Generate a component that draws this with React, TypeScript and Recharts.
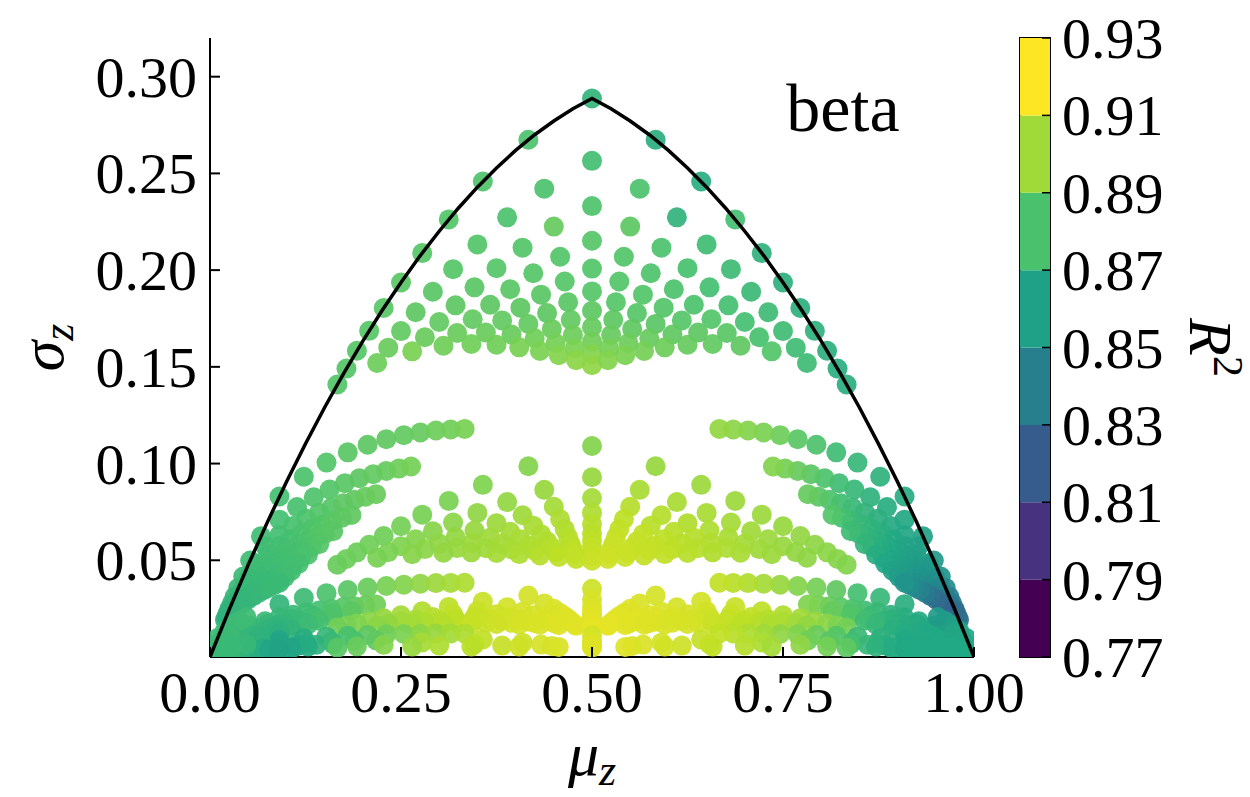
import React from 'react';
import { ScatterChart, Scatter, XAxis, YAxis, ReferenceDot, BarChart, Bar, ReferenceArea } from 'recharts';

const SERIF = '"Liberation Serif", "Times New Roman", serif';
const TICK_FONT = 58;

// each point: [mu_z, sigma_z, R2]
const domeLeft = [
  [0.5, 0.2887, 0.874], [0.4167, 0.2674, 0.884], [0.3571, 0.2458, 0.885], [0.3125, 0.2262, 0.886], [0.2778, 0.2088, 0.887], [0.25, 0.1936, 0.888],
  [0.2273, 0.1804, 0.888], [0.2083, 0.1686, 0.887], [0.1923, 0.1583, 0.887], [0.1786, 0.1491, 0.886], [0.1667, 0.1409, 0.886],
  [0.5, 0.2565, 0.881], [0.4375, 0.2421, 0.884], [0.3889, 0.2273, 0.884], [0.35, 0.2133, 0.886], [0.3182, 0.2005, 0.887],
  [0.2917, 0.1888, 0.888], [0.2692, 0.1782, 0.889], [0.25, 0.1685, 0.891], [0.2333, 0.1599, 0.893], [0.2188, 0.152, 0.894],
  [0.5, 0.2331, 0.885], [0.45, 0.2225, 0.892], [0.4091, 0.2116, 0.886], [0.375, 0.201, 0.887], [0.3462, 0.1911, 0.888],
  [0.3214, 0.1818, 0.889], [0.3, 0.1732, 0.891], [0.2813, 0.1653, 0.893], [0.2647, 0.158, 0.898],
  [0.5, 0.2152, 0.887], [0.4583, 0.2069, 0.886], [0.4231, 0.1984, 0.887], [0.3929, 0.1901, 0.888], [0.3667, 0.1821, 0.889],
  [0.3438, 0.1746, 0.891], [0.3235, 0.1675, 0.893], [0.3056, 0.1609, 0.895],
  [0.5, 0.2008, 0.886], [0.4643, 0.1941, 0.887], [0.4333, 0.1873, 0.888], [0.4063, 0.1806, 0.889], [0.3824, 0.174, 0.891],
  [0.3611, 0.1677, 0.893], [0.3421, 0.1618, 0.895],
  [0.5, 0.189, 0.887], [0.4688, 0.1834, 0.888], [0.4412, 0.1778, 0.889], [0.4167, 0.1722, 0.891], [0.3947, 0.1667, 0.893], [0.375, 0.1614, 0.895],
  [0.5, 0.179, 0.889], [0.4722, 0.1743, 0.891], [0.4474, 0.1696, 0.893], [0.425, 0.1648, 0.895], [0.4048, 0.1601, 0.897],
  [0.5, 0.1705, 0.892], [0.475, 0.1665, 0.894], [0.4524, 0.1623, 0.896], [0.4318, 0.1582, 0.898],
  [0.5, 0.1631, 0.895], [0.4773, 0.1596, 0.898], [0.4565, 0.156, 0.9],
  [0.5, 0.1566, 0.9], [0.4792, 0.1534, 0.902],
  [0.5, 0.1508, 0.903],
];

const domeRight = [
  [0.5833, 0.2674, 0.87], [0.6429, 0.2458, 0.869], [0.6875, 0.2262, 0.882], [0.7222, 0.2088, 0.872], [0.75, 0.1936, 0.871],
  [0.7727, 0.1804, 0.871], [0.7917, 0.1686, 0.872], [0.8077, 0.1583, 0.871], [0.8214, 0.1491, 0.87], [0.8333, 0.1409, 0.87],
  [0.5625, 0.2421, 0.884], [0.6111, 0.2273, 0.873], [0.65, 0.2133, 0.88], [0.6818, 0.2005, 0.879], [0.7083, 0.1888, 0.878],
  [0.7308, 0.1782, 0.879], [0.75, 0.1685, 0.88], [0.7667, 0.1599, 0.88], [0.7813, 0.152, 0.879],
  [0.55, 0.2225, 0.889], [0.5909, 0.2116, 0.884], [0.625, 0.201, 0.883], [0.6538, 0.1911, 0.882], [0.6786, 0.1818, 0.882],
  [0.7, 0.1732, 0.882], [0.7188, 0.1653, 0.883], [0.7353, 0.158, 0.886],
  [0.5417, 0.2069, 0.886], [0.5769, 0.1984, 0.885], [0.6071, 0.1901, 0.884], [0.6333, 0.1821, 0.884], [0.6563, 0.1746, 0.886],
  [0.6765, 0.1675, 0.888], [0.6944, 0.1609, 0.89],
  [0.5357, 0.1941, 0.886], [0.5667, 0.1873, 0.886], [0.5938, 0.1806, 0.886], [0.6176, 0.174, 0.887], [0.6389, 0.1677, 0.889], [0.6579, 0.1618, 0.891],
  [0.5313, 0.1834, 0.887], [0.5588, 0.1778, 0.887], [0.5833, 0.1722, 0.888], [0.6053, 0.1667, 0.89], [0.625, 0.1614, 0.892],
  [0.5278, 0.1743, 0.889], [0.5526, 0.1696, 0.89], [0.575, 0.1648, 0.892], [0.5952, 0.1601, 0.894],
  [0.525, 0.1665, 0.892], [0.5476, 0.1623, 0.894], [0.5682, 0.1582, 0.896],
  [0.5227, 0.1596, 0.896], [0.5435, 0.156, 0.898],
  [0.5208, 0.1534, 0.9],
];

const arcsLeft = [
  [0.0909, 0.083, 0.882], [0.1228, 0.0932, 0.884], [0.1525, 0.1005, 0.886], [0.1803, 0.1058, 0.888], [0.2063, 0.1097, 0.889], [0.2308, 0.1126, 0.89],
  [0.2537, 0.1147, 0.891], [0.2754, 0.1161, 0.892], [0.2958, 0.1171, 0.894], [0.3151, 0.1176, 0.895], [0.3333, 0.1179, 0.897],
  [0.0667, 0.0624, 0.88], [0.0909, 0.071, 0.882], [0.1139, 0.0775, 0.883], [0.1358, 0.0826, 0.885], [0.1566, 0.0866, 0.886], [0.1765, 0.0898, 0.888],
  [0.1954, 0.0924, 0.889], [0.2135, 0.0945, 0.891], [0.2308, 0.0962, 0.892], [0.2473, 0.0974, 0.894], [0.2632, 0.0985, 0.896],
  [0.0526, 0.0499, 0.879], [0.0722, 0.0573, 0.88], [0.0909, 0.063, 0.881], [0.1089, 0.0677, 0.883], [0.1262, 0.0715, 0.884], [0.1429, 0.0746, 0.886],
  [0.1589, 0.0772, 0.887], [0.1743, 0.0795, 0.889], [0.1892, 0.0813, 0.89], [0.2035, 0.0829, 0.892], [0.2174, 0.0842, 0.893],
  [0.0435, 0.0416, 0.878], [0.0598, 0.048, 0.879], [0.0756, 0.0531, 0.88], [0.0909, 0.0573, 0.881], [0.1057, 0.0608, 0.882], [0.12, 0.0637, 0.884],
  [0.1339, 0.0663, 0.885], [0.1473, 0.0685, 0.886], [0.1603, 0.0703, 0.888], [0.1729, 0.072, 0.889], [0.1852, 0.0734, 0.89],
  [0.037, 0.0357, 0.877], [0.0511, 0.0413, 0.878], [0.0647, 0.0458, 0.879], [0.078, 0.0496, 0.88], [0.0909, 0.0528, 0.881], [0.1034, 0.0556, 0.882],
  [0.1156, 0.058, 0.883], [0.1275, 0.0601, 0.884], [0.1391, 0.062, 0.886], [0.1503, 0.0636, 0.887], [0.1613, 0.065, 0.888],
  [0.0323, 0.0312, 0.876], [0.0446, 0.0363, 0.877], [0.0566, 0.0404, 0.878], [0.0683, 0.0438, 0.879], [0.0798, 0.0468, 0.879], [0.0909, 0.0493, 0.88],
  [0.1018, 0.0516, 0.881], [0.1124, 0.0535, 0.882], [0.1228, 0.0553, 0.883], [0.1329, 0.0569, 0.884], [0.1429, 0.0583, 0.886],
  [0.0286, 0.0278, 0.875], [0.0395, 0.0323, 0.876], [0.0503, 0.036, 0.877], [0.0608, 0.0392, 0.878], [0.071, 0.0419, 0.878], [0.0811, 0.0443, 0.879],
  [0.0909, 0.0464, 0.88], [0.1005, 0.0483, 0.881], [0.1099, 0.05, 0.882], [0.1192, 0.0515, 0.883], [0.1282, 0.0529, 0.884],
  [0.0256, 0.025, 0.874], [0.0355, 0.0291, 0.875], [0.0452, 0.0325, 0.876], [0.0547, 0.0354, 0.877], [0.064, 0.038, 0.877], [0.0732, 0.0402, 0.878],
  [0.0821, 0.0422, 0.879], [0.0909, 0.0439, 0.879], [0.0995, 0.0455, 0.88], [0.108, 0.047, 0.881], [0.1163, 0.0483, 0.882],
  [0.0233, 0.0227, 0.873], [0.0323, 0.0265, 0.874], [0.0411, 0.0297, 0.875], [0.0498, 0.0324, 0.876], [0.0583, 0.0347, 0.876], [0.0667, 0.0368, 0.877],
  [0.0749, 0.0386, 0.878], [0.083, 0.0403, 0.878], [0.0909, 0.0418, 0.879], [0.0987, 0.0432, 0.88], [0.1064, 0.0445, 0.881],
  [0.0213, 0.0208, 0.872], [0.0295, 0.0243, 0.873], [0.0377, 0.0273, 0.874], [0.0456, 0.0297, 0.875], [0.0535, 0.0319, 0.875], [0.0612, 0.0339, 0.876],
  [0.0688, 0.0356, 0.877], [0.0763, 0.0373, 0.877], [0.0837, 0.0387, 0.878], [0.0909, 0.04, 0.879], [0.098, 0.0412, 0.88],
  [0.0196, 0.0192, 0.872], [0.0272, 0.0225, 0.873], [0.0347, 0.0252, 0.873], [0.0421, 0.0275, 0.874], [0.0494, 0.0296, 0.875], [0.0566, 0.0315, 0.875],
  [0.0637, 0.0331, 0.876], [0.0706, 0.0346, 0.876], [0.0775, 0.036, 0.877], [0.0842, 0.0372, 0.878], [0.0909, 0.0384, 0.878],
];

const arcsRight = [
  [0.9091, 0.083, 0.868], [0.8772, 0.0932, 0.872], [0.8475, 0.1005, 0.876], [0.8197, 0.1058, 0.88], [0.7937, 0.1097, 0.884], [0.7692, 0.1126, 0.888],
  [0.7463, 0.1147, 0.894], [0.7246, 0.1161, 0.898], [0.7042, 0.1171, 0.9], [0.6849, 0.1176, 0.902], [0.6667, 0.1179, 0.904],
  [0.9333, 0.0624, 0.862], [0.9091, 0.071, 0.866], [0.8861, 0.0775, 0.869], [0.8642, 0.0826, 0.872], [0.8434, 0.0866, 0.876], [0.8235, 0.0898, 0.88],
  [0.8046, 0.0924, 0.884], [0.7865, 0.0945, 0.888], [0.7692, 0.0962, 0.892], [0.7527, 0.0974, 0.896], [0.7368, 0.0985, 0.9],
  [0.9474, 0.0499, 0.856], [0.9278, 0.0573, 0.86], [0.9091, 0.063, 0.864], [0.8911, 0.0677, 0.867], [0.8738, 0.0715, 0.87], [0.8571, 0.0746, 0.873],
  [0.8411, 0.0772, 0.876], [0.8257, 0.0795, 0.88], [0.8108, 0.0813, 0.884], [0.7965, 0.0829, 0.888], [0.7826, 0.0842, 0.892],
  [0.9565, 0.0416, 0.852], [0.9402, 0.048, 0.856], [0.9244, 0.0531, 0.86], [0.9091, 0.0573, 0.863], [0.8943, 0.0608, 0.866], [0.88, 0.0637, 0.869],
  [0.8661, 0.0663, 0.872], [0.8527, 0.0685, 0.875], [0.8397, 0.0703, 0.878], [0.8271, 0.072, 0.882], [0.8148, 0.0734, 0.886],
  [0.963, 0.0357, 0.846], [0.9489, 0.0413, 0.851], [0.9353, 0.0458, 0.855], [0.922, 0.0496, 0.858], [0.9091, 0.0528, 0.861], [0.8966, 0.0556, 0.864],
  [0.8844, 0.058, 0.867], [0.8725, 0.0601, 0.87], [0.8609, 0.062, 0.873], [0.8497, 0.0636, 0.876], [0.8387, 0.065, 0.879],
  [0.9677, 0.0312, 0.84], [0.9554, 0.0363, 0.846], [0.9434, 0.0404, 0.85], [0.9317, 0.0438, 0.854], [0.9202, 0.0468, 0.857], [0.9091, 0.0493, 0.86],
  [0.8982, 0.0516, 0.863], [0.8876, 0.0535, 0.866], [0.8772, 0.0553, 0.868], [0.8671, 0.0569, 0.871], [0.8571, 0.0583, 0.874],
  [0.9714, 0.0278, 0.836], [0.9605, 0.0323, 0.84], [0.9497, 0.036, 0.845], [0.9392, 0.0392, 0.849], [0.929, 0.0419, 0.852], [0.9189, 0.0443, 0.855],
  [0.9091, 0.0464, 0.858], [0.8995, 0.0483, 0.861], [0.8901, 0.05, 0.864], [0.8808, 0.0515, 0.866], [0.8718, 0.0529, 0.869],
  [0.9744, 0.025, 0.832], [0.9645, 0.0291, 0.836], [0.9548, 0.0325, 0.84], [0.9453, 0.0354, 0.844], [0.936, 0.038, 0.848], [0.9268, 0.0402, 0.851],
  [0.9179, 0.0422, 0.854], [0.9091, 0.0439, 0.857], [0.9005, 0.0455, 0.86], [0.892, 0.047, 0.862], [0.8837, 0.0483, 0.865],
  [0.9767, 0.0227, 0.828], [0.9677, 0.0265, 0.832], [0.9589, 0.0297, 0.836], [0.9502, 0.0324, 0.84], [0.9417, 0.0347, 0.844], [0.9333, 0.0368, 0.847],
  [0.9251, 0.0386, 0.85], [0.917, 0.0403, 0.853], [0.9091, 0.0418, 0.856], [0.9013, 0.0432, 0.858], [0.8936, 0.0445, 0.861],
  [0.9787, 0.0208, 0.826], [0.9705, 0.0243, 0.828], [0.9623, 0.0273, 0.831], [0.9544, 0.0297, 0.835], [0.9465, 0.0319, 0.839], [0.9388, 0.0339, 0.843],
  [0.9312, 0.0356, 0.846], [0.9237, 0.0373, 0.849], [0.9163, 0.0387, 0.852], [0.9091, 0.04, 0.855], [0.902, 0.0412, 0.858],
  [0.9804, 0.0192, 0.83], [0.9728, 0.0225, 0.826], [0.9653, 0.0252, 0.822], [0.9579, 0.0275, 0.822], [0.9506, 0.0296, 0.826], [0.9434, 0.0315, 0.83],
  [0.9363, 0.0331, 0.835], [0.9294, 0.0346, 0.84], [0.9225, 0.036, 0.844], [0.9158, 0.0372, 0.848], [0.9091, 0.0384, 0.852],
];

const fanLeft = [
  [0.5, 0.1091, 0.9], [0.4167, 0.0986, 0.9], [0.3571, 0.089, 0.899], [0.3125, 0.0807, 0.898], [0.2778, 0.0736, 0.897], [0.25, 0.0676, 0.896],
  [0.2273, 0.0625, 0.895], [0.2083, 0.058, 0.895], [0.1923, 0.0541, 0.894], [0.1786, 0.0507, 0.894], [0.1667, 0.0477, 0.893],
  [0.5, 0.0929, 0.905], [0.4375, 0.0864, 0.905], [0.3889, 0.0801, 0.904], [0.35, 0.0745, 0.903], [0.3182, 0.0695, 0.902],
  [0.2917, 0.065, 0.901], [0.2692, 0.0609, 0.9], [0.25, 0.0573, 0.899], [0.2333, 0.0542, 0.898], [0.2188, 0.0513, 0.897],
  [0.5, 0.0822, 0.908], [0.45, 0.0777, 0.908], [0.4091, 0.0733, 0.907], [0.375, 0.0692, 0.906], [0.3462, 0.0654, 0.905],
  [0.3214, 0.0619, 0.904], [0.3, 0.0587, 0.903], [0.2813, 0.0558, 0.902], [0.2647, 0.0531, 0.901],
  [0.5, 0.0745, 0.91], [0.4583, 0.0712, 0.91], [0.4231, 0.0679, 0.909], [0.3929, 0.0647, 0.908], [0.3667, 0.0617, 0.907],
  [0.3438, 0.0589, 0.906], [0.3235, 0.0563, 0.905], [0.3056, 0.0539, 0.904],
  [0.5, 0.0687, 0.912], [0.4643, 0.0661, 0.911], [0.4333, 0.0635, 0.91], [0.4063, 0.0609, 0.909], [0.3824, 0.0585, 0.908],
  [0.3611, 0.0562, 0.907], [0.3421, 0.0541, 0.906],
  [0.5, 0.064, 0.913], [0.4688, 0.0619, 0.912], [0.4412, 0.0598, 0.911], [0.4167, 0.0577, 0.91], [0.3947, 0.0557, 0.909], [0.375, 0.0538, 0.908],
  [0.5, 0.0602, 0.914], [0.4722, 0.0584, 0.913], [0.4474, 0.0567, 0.912], [0.425, 0.0549, 0.911], [0.4048, 0.0532, 0.91],
  [0.5, 0.057, 0.915], [0.475, 0.0555, 0.914], [0.4524, 0.054, 0.913], [0.4318, 0.0525, 0.912],
  [0.5, 0.0542, 0.916], [0.4773, 0.053, 0.915], [0.4565, 0.0517, 0.914],
  [0.5, 0.0519, 0.916], [0.4792, 0.0507, 0.915],
  [0.5, 0.0498, 0.917],
];

const fanRight = [
  [0.5833, 0.0986, 0.905], [0.6429, 0.089, 0.906], [0.6875, 0.0807, 0.906], [0.7222, 0.0736, 0.906], [0.75, 0.0676, 0.905],
  [0.7727, 0.0625, 0.904], [0.7917, 0.058, 0.903], [0.8077, 0.0541, 0.902], [0.8214, 0.0507, 0.901], [0.8333, 0.0477, 0.9],
  [0.5625, 0.0864, 0.909], [0.6111, 0.0801, 0.909], [0.65, 0.0745, 0.909], [0.6818, 0.0695, 0.908], [0.7083, 0.065, 0.907],
  [0.7308, 0.0609, 0.906], [0.75, 0.0573, 0.905], [0.7667, 0.0542, 0.904], [0.7813, 0.0513, 0.903],
  [0.55, 0.0777, 0.912], [0.5909, 0.0733, 0.912], [0.625, 0.0692, 0.911], [0.6538, 0.0654, 0.91], [0.6786, 0.0619, 0.909],
  [0.7, 0.0587, 0.908], [0.7188, 0.0558, 0.907], [0.7353, 0.0531, 0.906],
  [0.5417, 0.0712, 0.914], [0.5769, 0.0679, 0.913], [0.6071, 0.0647, 0.913], [0.6333, 0.0617, 0.912], [0.6563, 0.0589, 0.911],
  [0.6765, 0.0563, 0.91], [0.6944, 0.0539, 0.909],
  [0.5357, 0.0661, 0.915], [0.5667, 0.0635, 0.915], [0.5938, 0.0609, 0.914], [0.6176, 0.0585, 0.913], [0.6389, 0.0562, 0.912], [0.6579, 0.0541, 0.911],
  [0.5313, 0.0619, 0.916], [0.5588, 0.0598, 0.916], [0.5833, 0.0577, 0.915], [0.6053, 0.0557, 0.914], [0.625, 0.0538, 0.913],
  [0.5278, 0.0584, 0.917], [0.5526, 0.0567, 0.916], [0.575, 0.0549, 0.916], [0.5952, 0.0532, 0.915],
  [0.525, 0.0555, 0.917], [0.5476, 0.054, 0.917], [0.5682, 0.0525, 0.916],
  [0.5227, 0.053, 0.918], [0.5435, 0.0517, 0.917],
  [0.5208, 0.0507, 0.918],
];

const lowLeft = [
  [0.0909, 0.0273, 0.874], [0.1228, 0.0306, 0.879], [0.1525, 0.033, 0.884], [0.1803, 0.0346, 0.888], [0.2063, 0.0359, 0.893], [0.2308, 0.0367, 0.897],
  [0.2537, 0.0374, 0.9], [0.2754, 0.0379, 0.903], [0.2958, 0.0382, 0.906], [0.3151, 0.0383, 0.908], [0.3333, 0.0384, 0.91],
  [0.0526, 0.0161, 0.877], [0.0722, 0.0185, 0.877], [0.0909, 0.0204, 0.876], [0.1089, 0.0219, 0.877], [0.1262, 0.0231, 0.879], [0.1429, 0.0241, 0.882],
  [0.1589, 0.0249, 0.885], [0.1743, 0.0257, 0.887], [0.1892, 0.0262, 0.89], [0.2035, 0.0268, 0.893], [0.2174, 0.0271, 0.895],
  [0.0435, 0.0134, 0.877], [0.0756, 0.0171, 0.876], [0.1057, 0.0196, 0.876], [0.1339, 0.0214, 0.88], [0.1603, 0.0227, 0.885], [0.1852, 0.0237, 0.889],
  [0.037, 0.0115, 0.877], [0.0647, 0.0147, 0.876], [0.0909, 0.017, 0.874], [0.1156, 0.0186, 0.877], [0.1391, 0.0199, 0.881], [0.1613, 0.0209, 0.885],
  [0.0323, 0.01, 0.877], [0.0566, 0.013, 0.876], [0.0798, 0.015, 0.874], [0.1018, 0.0166, 0.875], [0.1228, 0.0177, 0.878], [0.1429, 0.0187, 0.882],
  [0.0286, 0.0089, 0.877], [0.0503, 0.0115, 0.876], [0.071, 0.0134, 0.874], [0.0909, 0.0149, 0.873], [0.1099, 0.016, 0.876], [0.1282, 0.0169, 0.879],
  [0.0233, 0.0073, 0.877], [0.0411, 0.0095, 0.876], [0.0583, 0.0111, 0.875], [0.0749, 0.0123, 0.873], [0.0909, 0.0134, 0.872], [0.1064, 0.0142, 0.874],
  [0.0196, 0.0061, 0.877], [0.0347, 0.008, 0.876], [0.0494, 0.0094, 0.875], [0.0637, 0.0106, 0.873], [0.0775, 0.0115, 0.872], [0.0909, 0.0122, 0.871],
];

const lowRight = [
  [0.9091, 0.0273, 0.87], [0.8772, 0.0306, 0.876], [0.8475, 0.033, 0.882], [0.8197, 0.0346, 0.89], [0.7937, 0.0359, 0.896], [0.7692, 0.0367, 0.9],
  [0.7463, 0.0374, 0.905], [0.7246, 0.0379, 0.908], [0.7042, 0.0382, 0.911], [0.6849, 0.0383, 0.913], [0.6667, 0.0384, 0.915],
  [0.9474, 0.0161, 0.866], [0.9278, 0.0185, 0.867], [0.9091, 0.0204, 0.869], [0.8911, 0.0219, 0.872], [0.8738, 0.0231, 0.876], [0.8571, 0.0241, 0.88],
  [0.8411, 0.0249, 0.884], [0.8257, 0.0257, 0.888], [0.8108, 0.0262, 0.892], [0.7965, 0.0268, 0.896], [0.7826, 0.0271, 0.899],
  [0.9565, 0.0134, 0.866], [0.9244, 0.0171, 0.867], [0.8943, 0.0196, 0.871], [0.8661, 0.0214, 0.877], [0.8397, 0.0227, 0.885], [0.8148, 0.0237, 0.892],
  [0.963, 0.0115, 0.866], [0.9353, 0.0147, 0.867], [0.9091, 0.017, 0.869], [0.8844, 0.0186, 0.873], [0.8609, 0.0199, 0.879], [0.8387, 0.0209, 0.886],
  [0.9677, 0.01, 0.866], [0.9434, 0.013, 0.866], [0.9202, 0.015, 0.868], [0.8982, 0.0166, 0.871], [0.8772, 0.0177, 0.875], [0.8571, 0.0187, 0.88],
  [0.9714, 0.0089, 0.866], [0.9497, 0.0115, 0.866], [0.929, 0.0134, 0.867], [0.9091, 0.0149, 0.869], [0.8901, 0.016, 0.872], [0.8718, 0.0169, 0.876],
  [0.9767, 0.0073, 0.866], [0.9589, 0.0095, 0.866], [0.9417, 0.0111, 0.866], [0.9251, 0.0123, 0.867], [0.9091, 0.0134, 0.869], [0.8936, 0.0142, 0.871],
  [0.9804, 0.0061, 0.866], [0.9653, 0.008, 0.866], [0.9506, 0.0094, 0.866], [0.9363, 0.0106, 0.866], [0.9225, 0.0115, 0.867], [0.9091, 0.0122, 0.868],
];

const lowFanLeft = [
  [0.5, 0.0353, 0.918], [0.4167, 0.0318, 0.919], [0.3571, 0.0286, 0.917], [0.3125, 0.0259, 0.914], [0.2778, 0.0236, 0.911], [0.25, 0.0216, 0.908],
  [0.2273, 0.02, 0.905], [0.2083, 0.0185, 0.902], [0.1923, 0.0173, 0.899], [0.1786, 0.0162, 0.897], [0.1667, 0.0152, 0.895],
  [0.5, 0.0298, 0.92], [0.4375, 0.0277, 0.92], [0.3889, 0.0257, 0.919], [0.35, 0.0238, 0.917], [0.3182, 0.0222, 0.915],
  [0.2917, 0.0207, 0.912], [0.2692, 0.0194, 0.909], [0.25, 0.0183, 0.907], [0.2333, 0.0173, 0.904], [0.2188, 0.0163, 0.902],
  [0.5, 0.0263, 0.921], [0.45, 0.0249, 0.921], [0.4091, 0.0234, 0.92], [0.375, 0.0221, 0.918], [0.3462, 0.0208, 0.916],
  [0.3214, 0.0197, 0.914], [0.3, 0.0187, 0.912], [0.2813, 0.0178, 0.91], [0.2647, 0.0169, 0.908],
  [0.5, 0.0238, 0.922], [0.4583, 0.0227, 0.921], [0.4231, 0.0216, 0.92], [0.3929, 0.0206, 0.919], [0.3667, 0.0196, 0.918],
  [0.3438, 0.0188, 0.916], [0.3235, 0.0179, 0.914], [0.3056, 0.0172, 0.912],
  [0.5, 0.0219, 0.922], [0.4643, 0.0211, 0.922], [0.4333, 0.0202, 0.921], [0.4063, 0.0194, 0.92], [0.3824, 0.0186, 0.919],
  [0.3611, 0.0179, 0.917], [0.3421, 0.0172, 0.916],
  [0.5, 0.0204, 0.923], [0.4688, 0.0197, 0.922], [0.4412, 0.019, 0.921], [0.4167, 0.0184, 0.92], [0.3947, 0.0177, 0.919], [0.375, 0.0171, 0.918],
  [0.5, 0.0192, 0.923], [0.4722, 0.0186, 0.922], [0.4474, 0.018, 0.922], [0.425, 0.0175, 0.921], [0.4048, 0.0169, 0.92],
  [0.5, 0.0181, 0.923], [0.475, 0.0176, 0.923], [0.4524, 0.0172, 0.922], [0.4318, 0.0167, 0.921],
  [0.5, 0.0172, 0.923], [0.4773, 0.0168, 0.923], [0.4565, 0.0164, 0.922],
  [0.5, 0.0165, 0.924], [0.4792, 0.0161, 0.923],
  [0.5, 0.0158, 0.924],
];

const lowFanRight = [
  [0.5833, 0.0318, 0.92], [0.6429, 0.0286, 0.919], [0.6875, 0.0259, 0.917], [0.7222, 0.0236, 0.914], [0.75, 0.0216, 0.911],
  [0.7727, 0.02, 0.908], [0.7917, 0.0185, 0.905], [0.8077, 0.0173, 0.902], [0.8214, 0.0162, 0.899], [0.8333, 0.0152, 0.896],
  [0.5625, 0.0277, 0.921], [0.6111, 0.0257, 0.92], [0.65, 0.0238, 0.919], [0.6818, 0.0222, 0.917], [0.7083, 0.0207, 0.915],
  [0.7308, 0.0194, 0.912], [0.75, 0.0183, 0.91], [0.7667, 0.0173, 0.907], [0.7813, 0.0163, 0.904],
  [0.55, 0.0249, 0.922], [0.5909, 0.0234, 0.921], [0.625, 0.0221, 0.92], [0.6538, 0.0208, 0.918], [0.6786, 0.0197, 0.916],
  [0.7, 0.0187, 0.914], [0.7188, 0.0178, 0.912], [0.7353, 0.0169, 0.91],
  [0.5417, 0.0227, 0.922], [0.5769, 0.0216, 0.922], [0.6071, 0.0206, 0.921], [0.6333, 0.0196, 0.92], [0.6563, 0.0188, 0.918],
  [0.6765, 0.0179, 0.916], [0.6944, 0.0172, 0.914],
  [0.5357, 0.0211, 0.923], [0.5667, 0.0202, 0.922], [0.5938, 0.0194, 0.921], [0.6176, 0.0186, 0.92], [0.6389, 0.0179, 0.919], [0.6579, 0.0172, 0.917],
  [0.5313, 0.0197, 0.923], [0.5588, 0.019, 0.923], [0.5833, 0.0184, 0.922], [0.6053, 0.0177, 0.921], [0.625, 0.0171, 0.92],
  [0.5278, 0.0186, 0.923], [0.5526, 0.018, 0.923], [0.575, 0.0175, 0.922], [0.5952, 0.0169, 0.921],
  [0.525, 0.0176, 0.924], [0.5476, 0.0172, 0.923], [0.5682, 0.0167, 0.922],
  [0.5227, 0.0168, 0.924], [0.5435, 0.0164, 0.923],
  [0.5208, 0.0161, 0.924],
];

const baseFan = [
  [0.5, 0.0112, 0.92], [0.3571, 0.0091, 0.915], [0.2778, 0.0075, 0.908], [0.2273, 0.0063, 0.9], [0.1923, 0.0055, 0.893], [0.1667, 0.0048, 0.888],
  [0.5, 0.0083, 0.921], [0.4091, 0.0074, 0.918], [0.3462, 0.0066, 0.914], [0.3, 0.0059, 0.91], [0.2647, 0.0054, 0.905],
  [0.5, 0.0069, 0.922], [0.4333, 0.0064, 0.92], [0.3824, 0.0059, 0.916], [0.3421, 0.0054, 0.913],
  [0.5, 0.0061, 0.922], [0.4474, 0.0057, 0.92], [0.4048, 0.0054, 0.918],
  [0.5, 0.0055, 0.922], [0.4565, 0.0052, 0.921], [0.5, 0.005, 0.922],
  [0.6429, 0.0091, 0.916], [0.7222, 0.0075, 0.91], [0.7727, 0.0063, 0.903], [0.8077, 0.0055, 0.896], [0.8333, 0.0048, 0.89],
  [0.5909, 0.0074, 0.919], [0.6538, 0.0066, 0.916], [0.7, 0.0059, 0.912], [0.7353, 0.0054, 0.908],
  [0.5667, 0.0064, 0.921], [0.6176, 0.0059, 0.918], [0.6579, 0.0054, 0.915],
  [0.5526, 0.0057, 0.921], [0.5952, 0.0054, 0.919], [0.5435, 0.0052, 0.922],
];

const baseLeft = [
  [0.0909, 0.0087, 0.864], [0.1228, 0.0097, 0.869], [0.1525, 0.0105, 0.876], [0.1803, 0.011, 0.883], [0.2063, 0.0114, 0.889], [0.2308, 0.0117, 0.894],
  [0.2537, 0.0119, 0.898], [0.2754, 0.012, 0.902], [0.2958, 0.0121, 0.905], [0.3151, 0.0122, 0.908], [0.3333, 0.0122, 0.91],
  [0.0526, 0.0051, 0.876], [0.0909, 0.0065, 0.864], [0.1262, 0.0073, 0.869], [0.1589, 0.0079, 0.876], [0.1892, 0.0083, 0.884], [0.2174, 0.0086, 0.89],
  [0.037, 0.0036, 0.877], [0.0647, 0.0047, 0.872], [0.0909, 0.0054, 0.864], [0.1156, 0.0059, 0.867], [0.1391, 0.0063, 0.872], [0.1613, 0.0066, 0.878],
  [0.0286, 0.0028, 0.877], [0.0503, 0.0037, 0.876], [0.071, 0.0042, 0.868], [0.0909, 0.0047, 0.863], [0.1099, 0.0051, 0.865], [0.1282, 0.0054, 0.868],
  [0.0233, 0.0023, 0.877], [0.0411, 0.003, 0.876], [0.0583, 0.0035, 0.872], [0.0749, 0.0039, 0.866], [0.0909, 0.0042, 0.862], [0.1064, 0.0045, 0.864],
  [0.0196, 0.0019, 0.877], [0.0347, 0.0025, 0.876], [0.0494, 0.003, 0.874], [0.0637, 0.0033, 0.869], [0.0775, 0.0036, 0.864], [0.0909, 0.0039, 0.862],
];

const baseRight = [
  [0.9091, 0.0087, 0.866], [0.8772, 0.0097, 0.872], [0.8475, 0.0105, 0.878], [0.8197, 0.011, 0.886], [0.7937, 0.0114, 0.893], [0.7692, 0.0117, 0.899],
  [0.7463, 0.0119, 0.903], [0.7246, 0.012, 0.907], [0.7042, 0.0121, 0.91], [0.6849, 0.0122, 0.913], [0.6667, 0.0122, 0.915],
  [0.9474, 0.0051, 0.866], [0.9091, 0.0065, 0.866], [0.8738, 0.0073, 0.872], [0.8411, 0.0079, 0.88], [0.8108, 0.0083, 0.888], [0.7826, 0.0086, 0.895],
  [0.963, 0.0036, 0.866], [0.9353, 0.0047, 0.866], [0.9091, 0.0054, 0.866], [0.8844, 0.0059, 0.87], [0.8609, 0.0063, 0.876], [0.8387, 0.0066, 0.882],
  [0.9714, 0.0028, 0.866], [0.9497, 0.0037, 0.866], [0.929, 0.0042, 0.866], [0.9091, 0.0047, 0.866], [0.8901, 0.0051, 0.868], [0.8718, 0.0054, 0.872],
  [0.9767, 0.0023, 0.866], [0.9589, 0.003, 0.866], [0.9417, 0.0035, 0.866], [0.9251, 0.0039, 0.866], [0.9091, 0.0042, 0.866], [0.8936, 0.0045, 0.868],
  [0.9804, 0.0019, 0.866], [0.9653, 0.0025, 0.866], [0.9506, 0.003, 0.866], [0.9363, 0.0033, 0.866], [0.9225, 0.0036, 0.866], [0.9091, 0.0039, 0.866],
];

const cornerLeft = [
  [0.0099, 0.0098, 0.878], [0.0196, 0.0137, 0.879], [0.0291, 0.0165, 0.879], [0.0385, 0.0188, 0.879], [0.0476, 0.0207, 0.879],
  [0.0055, 0.0055, 0.877], [0.0164, 0.0094, 0.878], [0.027, 0.0119, 0.878], [0.0189, 0.0083, 0.878],
  [0.0476, 0.0065, 0.876], [0.0291, 0.0052, 0.877], [0.0099, 0.0031, 0.877], [0.0189, 0.0026, 0.877], [0.005, 0.0022, 0.877],
];

const cornerRight = [
  [0.9901, 0.0098, 0.866], [0.9804, 0.0137, 0.864], [0.9709, 0.0165, 0.862], [0.9615, 0.0188, 0.86], [0.9524, 0.0207, 0.856],
  [0.9945, 0.0055, 0.866], [0.9836, 0.0094, 0.865], [0.973, 0.0119, 0.864], [0.9811, 0.0083, 0.865],
  [0.9524, 0.0065, 0.866], [0.9709, 0.0052, 0.866], [0.9901, 0.0031, 0.866], [0.9811, 0.0026, 0.866], [0.995, 0.0022, 0.866],
];

// outer boundary drawn as the black curve
const curveMu = [0, 0.025, 0.05, 0.075, 0.1, 0.125, 0.15, 0.175, 0.2, 0.225, 0.25, 0.275, 0.3, 0.325, 0.35, 0.375, 0.4, 0.425, 0.45, 0.475, 0.5,
  0.525, 0.55, 0.575, 0.6, 0.625, 0.65, 0.675, 0.7, 0.725, 0.75, 0.775, 0.8, 0.825, 0.85, 0.875, 0.9, 0.925, 0.95, 0.975, 1];
const curveSigma = [0, 0.0244, 0.0476, 0.0696, 0.0905, 0.1102, 0.129, 0.1466, 0.1633, 0.179, 0.1936, 0.2074, 0.2201, 0.232, 0.2429, 0.2528, 0.2619, 0.27, 0.2771, 0.2834, 0.2887,
  0.2834, 0.2771, 0.27, 0.2619, 0.2528, 0.2429, 0.232, 0.2201, 0.2074, 0.1936, 0.179, 0.1633, 0.1466, 0.129, 0.1102, 0.0905, 0.0696, 0.0476, 0.0244, 0];

const xTicks = [0, 0.25, 0.5, 0.75, 1];
const yTicks = [0.05, 0.1, 0.15, 0.2, 0.25, 0.3];
const cbTicks = [0.77, 0.79, 0.81, 0.83, 0.85, 0.87, 0.89, 0.91, 0.93];
const cbColors = ['#440154', '#46327e', '#365c8d', '#277f8e', '#1fa187', '#4ac16d', '#a0da39', '#fde725'];

const VIRIDIS = ['#440154', '#482475', '#414487', '#355f8d', '#2a788e', '#21918c', '#22a884', '#44bf70', '#7ad151', '#bddf26', '#fde725'];

function hexRgb(h: string) {
  return [parseInt(h.slice(1, 3), 16), parseInt(h.slice(3, 5), 16), parseInt(h.slice(5, 7), 16)];
}

function viridis(v: number) {
  const t = Math.max(0, Math.min(1, (v - 0.77) / 0.16)) * 10;
  const i = Math.min(9, Math.floor(t));
  const f = t - i;
  const a = hexRgb(VIRIDIS[i]);
  const b = hexRgb(VIRIDIS[i + 1]);
  const c = a.map((x, k) => Math.round(x + (b[k] - x) * f));
  return `rgb(${c[0]},${c[1]},${c[2]})`;
}

const points = [
  ...domeLeft, ...domeRight, ...arcsLeft, ...arcsRight, ...fanLeft, ...fanRight,
  ...lowLeft, ...lowRight, ...lowFanLeft, ...lowFanRight, ...baseLeft, ...baseRight, ...baseFan,
  ...cornerLeft, ...cornerRight,
].map(([mu, sigma, r2]) => ({ mu, sigma, r2 }));

const curve = curveMu.map((mu, i) => ({ mu, sigma: curveSigma[i] }));

const cbRow = [{ k: 'cb', base: cbTicks[0], ...Object.fromEntries(cbColors.map((_, i) => [`s${i}`, cbTicks[i + 1] - cbTicks[i]])) }];

const Dot = (p: any) => <circle cx={p.cx} cy={p.cy} r={10} fill={viridis(p.payload.r2)} fillOpacity={0.92} />;
const NoShape = () => <g />;

const BottomTick = (p: any) => (
  <g>
    <line x1={p.x} x2={p.x} y1={p.y} y2={p.y - 10} stroke="#000" strokeWidth={2} />
    <text x={p.x} y={p.y + 55} textAnchor="middle" fontFamily={SERIF} fontSize={TICK_FONT} fill="#000">{p.payload.value.toFixed(2)}</text>
  </g>
);
const LeftTick = (p: any) => (
  <g>
    <line x1={p.x} x2={p.x + 10} y1={p.y} y2={p.y} stroke="#000" strokeWidth={2} />
    <text x={p.x - 13} y={p.y + 20} textAnchor="end" fontFamily={SERIF} fontSize={TICK_FONT} fill="#000">{p.payload.value.toFixed(2)}</text>
  </g>
);
const TopTick = (p: any) => <line x1={p.x} x2={p.x} y1={p.y} y2={p.y + 10} stroke="#000" strokeWidth={2} />;
const RightTick = (p: any) => <line x1={p.x} x2={p.x - 10} y1={p.y} y2={p.y} stroke="#000" strokeWidth={2} />;
const CbTick = (p: any) => (
  <g>
    <line x1={p.x} x2={p.x - 8} y1={p.y} y2={p.y} stroke="#000" strokeWidth={1.5} />
    <text x={p.x + 12} y={p.y + 20} textAnchor="start" fontFamily={SERIF} fontSize={TICK_FONT} fill="#000">{p.payload.value.toFixed(2)}</text>
  </g>
);

const sigmaLabel = (p: any) => {
  const vb = p.viewBox;
  const cx = vb.x + 53;
  const cy = vb.y + vb.height / 2;
  return (
    <text transform={`translate(${cx},${cy}) rotate(-90)`} textAnchor="middle" fontFamily={SERIF} fontSize={62} fill="#000">
      <tspan fontStyle="italic">σ</tspan>
      <tspan fontStyle="italic" fontSize={44} dy={10}>z</tspan>
    </text>
  );
};

const muLabel = (p: any) => {
  const vb = p.viewBox;
  return (
    <text x={vb.x + vb.width / 2} y={vb.y + 118} textAnchor="middle" fontFamily={SERIF} fontSize={62} fill="#000">
      <tspan fontStyle="italic">μ</tspan>
      <tspan fontStyle="italic" fontSize={44} dy={10}>z</tspan>
    </text>
  );
};

const r2Label = (p: any) => {
  const vb = p.viewBox;
  const cx = vb.x + 140;
  const cy = vb.y + vb.height / 2;
  return (
    <text transform={`translate(${cx},${cy}) rotate(90)`} textAnchor="middle" fontFamily={SERIF} fontSize={62} fill="#000">
      <tspan fontStyle="italic">R</tspan>
      <tspan fontSize={42} dy={-24}>2</tspan>
    </text>
  );
};

const betaLabel = (p: any) => {
  const vb = p.viewBox;
  return (
    <text x={vb.x + vb.width / 2} y={vb.y + vb.height / 2} textAnchor="middle" fontFamily={SERIF} fontSize={68} fill="#000">beta</text>
  );
};

const frame = { stroke: '#000', strokeWidth: 2 };

export default function App() {
  return (
    <div style={{ position: 'absolute', left: 0, top: 0, width: 1250, height: 797, background: '#fff' }}>
      <div style={{ position: 'absolute', left: 0, top: 0 }}>
        <ScatterChart width={1250} height={797} margin={{ top: 38, right: 276, bottom: 0, left: 10 }}>
          <XAxis xAxisId="b" type="number" dataKey="mu" domain={[0, 1]} ticks={xTicks} interval={0} allowDataOverflow
            height={140} tickSize={0} tickMargin={0} tickLine={false} axisLine={frame} tick={BottomTick} label={muLabel} />
          <XAxis xAxisId="t" orientation="top" type="number" dataKey="mu" domain={[0, 1]} ticks={xTicks} interval={0} allowDataOverflow
            height={0} tickSize={0} tickMargin={0} tickLine={false} axisLine={frame} tick={TopTick} />
          <YAxis yAxisId="l" type="number" dataKey="sigma" domain={[0, 0.32]} ticks={yTicks} interval={0} allowDataOverflow
            width={200} tickSize={0} tickMargin={0} tickLine={false} axisLine={frame} tick={LeftTick} label={sigmaLabel} />
          <YAxis yAxisId="r" orientation="right" type="number" dataKey="sigma" domain={[0, 0.32]} ticks={yTicks} interval={0} allowDataOverflow
            width={0} tickSize={0} tickMargin={0} tickLine={false} axisLine={frame} tick={RightTick} />
          <Scatter xAxisId="b" yAxisId="l" data={points} shape={Dot} isAnimationActive={false} />
          <Scatter xAxisId="t" yAxisId="r" data={curve} shape={NoShape} line={{ stroke: '#000', strokeWidth: 3.5 }} lineType="joint" isAnimationActive={false} />
          <ReferenceDot xAxisId="b" yAxisId="l" x={0.8285} y={0.272} r={0} fill="none" stroke="none" label={betaLabel} />
        </ScatterChart>
      </div>
      <div style={{ position: 'absolute', left: 0, top: 0 }}>
        <BarChart width={1250} height={797} data={cbRow} margin={{ top: 38, right: 80, bottom: 140, left: 1020 }} barCategoryGap={0} barGap={0}>
          <XAxis dataKey="k" hide />
          <YAxis orientation="right" type="number" domain={[0.77, 0.93]} ticks={cbTicks} interval={0} allowDataOverflow
            width={120} tickSize={0} tickMargin={0} tickLine={false} axisLine={false} tick={CbTick} label={r2Label} />
          <Bar dataKey="base" stackId="c" fill="none" isAnimationActive={false} />
          {cbColors.map((c, i) => (
            <Bar key={c} dataKey={`s${i}`} stackId="c" fill={c} isAnimationActive={false} />
          ))}
          <ReferenceArea y1={0.77} y2={0.93} fill="none" stroke="#000" strokeWidth={2} ifOverflow="visible" />
        </BarChart>
      </div>
    </div>
  );
}
